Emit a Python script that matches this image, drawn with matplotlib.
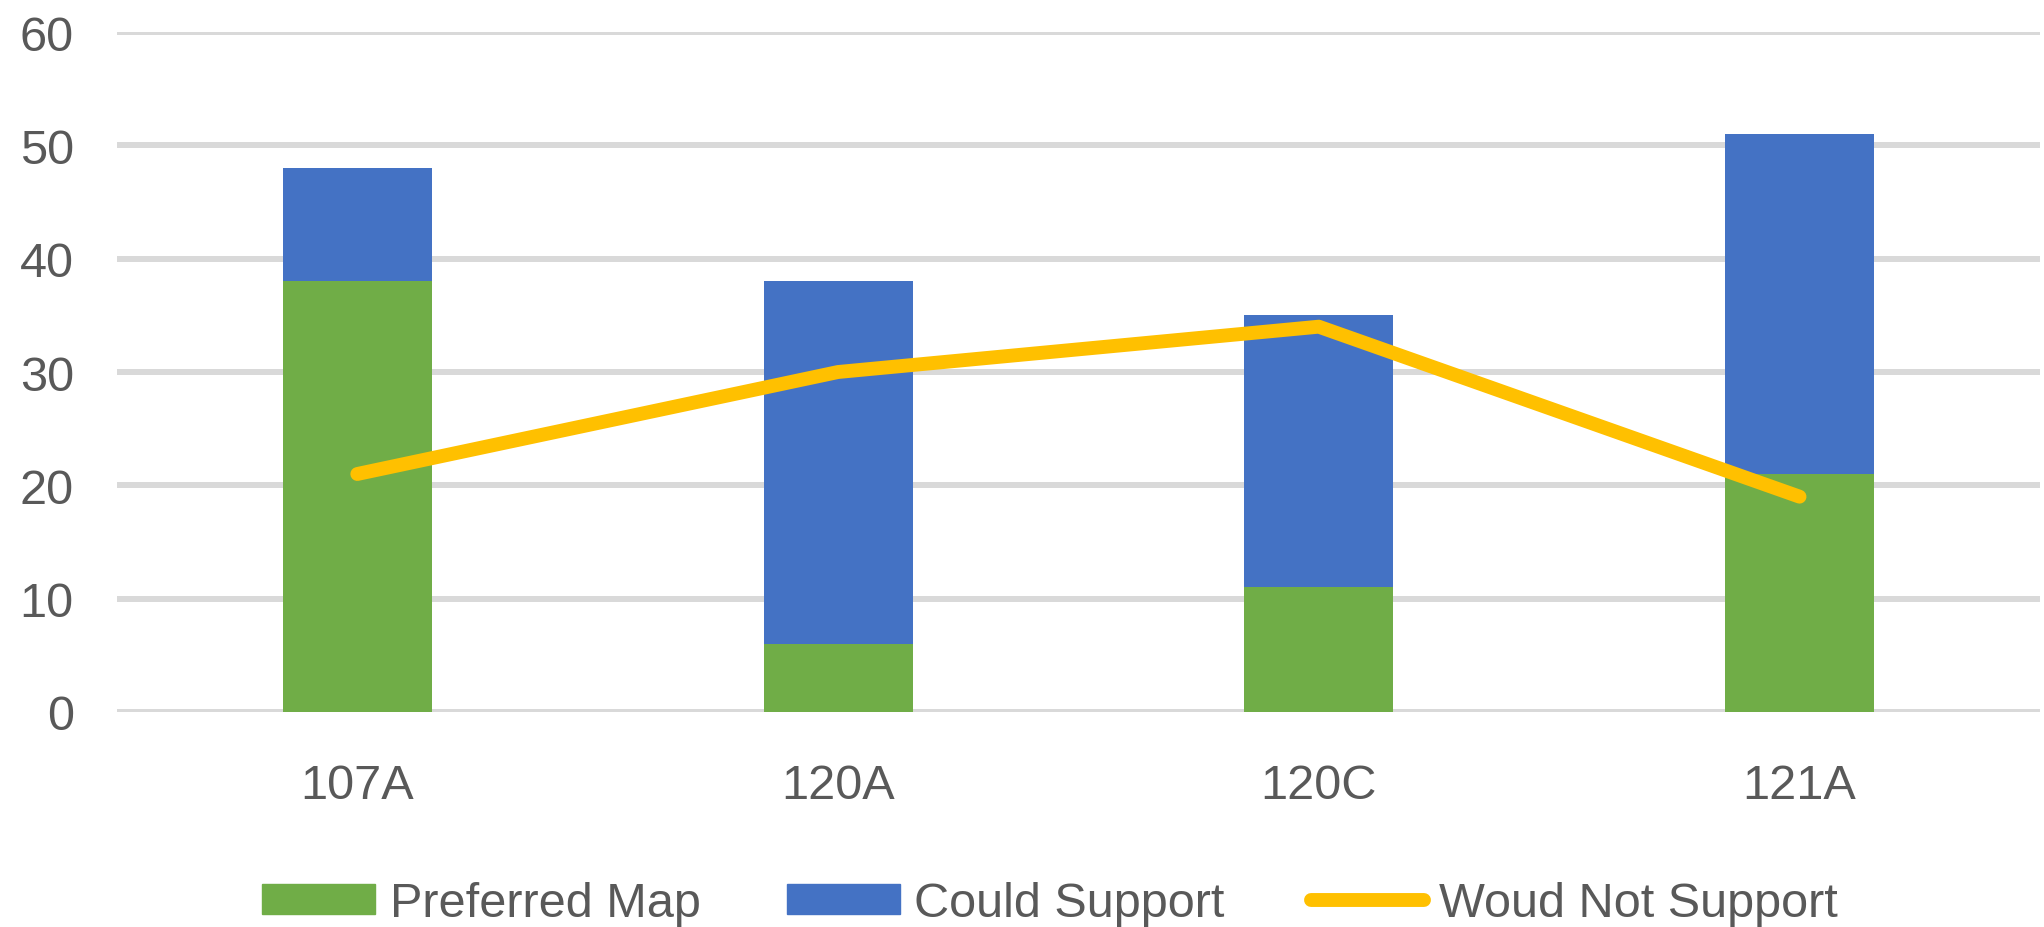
import numpy as np
import matplotlib.pyplot as plt
from matplotlib.lines import Line2D
from matplotlib.patches import Patch

# Data
categories = ['107A', '120A', '120C', '121A']
preferred_map = [38, 6, 11, 21]
could_support = [10, 32, 24, 30]
would_not_support = [21, 30, 34, 19]

green = '#70AD47'
blue = '#4472C4'
yellow = '#FFC000'
text_grey = '#595959'
grid_grey = '#D9D9D9'

plt.rcParams['font.family'] = ['Liberation Sans', 'DejaVu Sans']
fs = 35

fig = plt.figure(figsize=(20.44, 9.28), dpi=100)
ax = fig.add_axes([0.0572, 0.2317, 0.9408, 0.7327])

x = np.arange(len(categories))
ax.bar(x, preferred_map, width=0.31, color=green, zorder=2)
ax.bar(x, could_support, width=0.31, bottom=preferred_map, color=blue, zorder=2)
ax.plot(x, would_not_support, color=yellow, linewidth=10,
        solid_capstyle='round', solid_joinstyle='round', zorder=3)

ax.set_xlim(-0.5, 3.5)
ax.set_ylim(0, 60)
ax.set_yticks(range(0, 61, 10))
ax.set_xticks(x)
ax.set_xticklabels(categories)
ax.yaxis.grid(True, color=grid_grey, linewidth=4.3, zorder=0)
ax.set_axisbelow(True)
for s in ax.spines.values():
    s.set_visible(False)
ax.tick_params(axis='both', length=0, labelsize=fs, colors=text_grey)
ax.tick_params(axis='x', pad=37)
ax.tick_params(axis='y', pad=31)

handles = [Patch(color=green, label='Preferred Map'),
           Patch(color=blue, label='Could Support'),
           Line2D([0], [0], color=yellow, linewidth=10, solid_capstyle='round',
                  label='Woud Not Support')]
fig.legend(handles=handles, loc='center', bbox_to_anchor=(0.5135, 0.025), ncol=3,
           frameon=False, fontsize=fs, labelcolor=text_grey,
           handlelength=2.33, handleheight=0.59, handletextpad=0.3, columnspacing=1.77)

fig.savefig('out.png', dpi=100)
